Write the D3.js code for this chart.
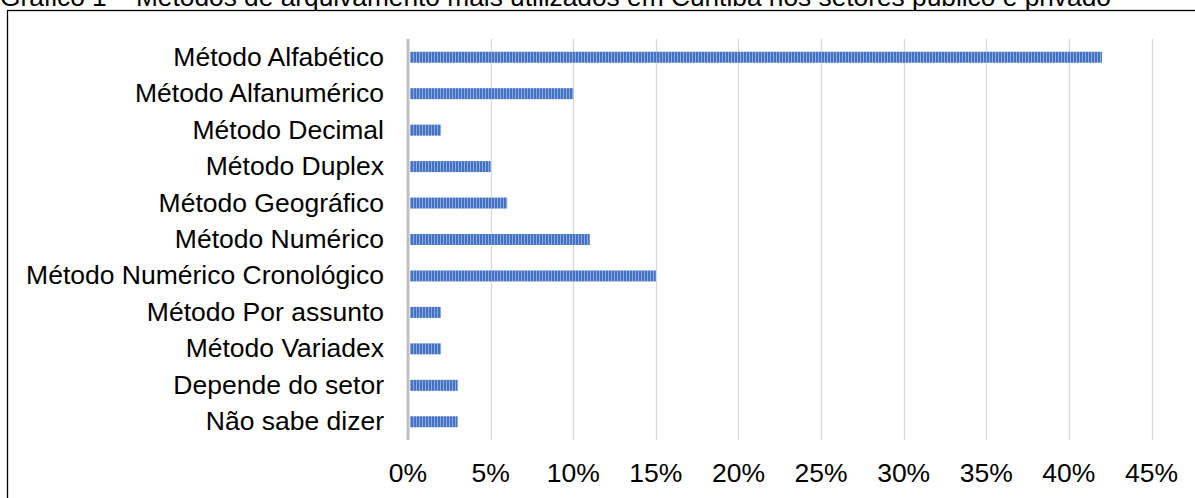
<!DOCTYPE html>
<html><head><meta charset="utf-8">
<script src="https://cdn.jsdelivr.net/npm/d3@7"></script>
<style>body{margin:0;background:#fff;}svg{display:block;}text{font-family:"Liberation Sans",Arial,sans-serif;fill:#000;}</style>
</head><body>
<script>
const categories = ["Método Alfabético","Método Alfanumérico","Método Decimal","Método Duplex","Método Geográfico","Método Numérico","Método Numérico Cronológico","Método Por assunto","Método Variadex","Depende do setor","Não sabe dizer"];
const values = [42,10,2,5,6,11,15,2,2,3,3];
const tickValues = [0,5,10,15,20,25,30,35,40,45];
const title = "Gráfico 1 – Métodos de arquivamento mais utilizados em Curitiba nos setores público e privado";

const W=1195,H=498;
const svg=d3.select("body").append("svg").attr("width",W).attr("height",H);
const defs=svg.append("defs");
const pat=defs.append("pattern").attr("id","stripes").attr("patternUnits","userSpaceOnUse").attr("width",3).attr("height",10);
pat.append("rect").attr("width",3).attr("height",10).attr("fill","#8eaadb");
pat.append("rect").attr("width",2).attr("height",10).attr("fill","#4472c4");

svg.append("text").attr("x",0).attr("y",6).attr("font-size",26.3).text(title);
svg.append("rect").attr("x",7.5).attr("y",10.5).attr("width",1200).attr("height",600).attr("fill","none").attr("stroke","#000").attr("stroke-width",1.3);

const x=d3.scaleLinear().domain([0,45]).range([408,1151.5]);
const y=d3.scaleBand().domain(categories).range([39,440]).paddingInner(0.7).paddingOuter(0.35);

svg.append("g").selectAll("line").data(tickValues.slice(1)).join("line")
 .attr("x1",d=>Math.round(x(d))+0.5).attr("x2",d=>Math.round(x(d))+0.5)
 .attr("y1",39).attr("y2",440).attr("stroke","#d9d9d9").attr("stroke-width",1.3);

svg.append("g").selectAll("rect").data(categories).join("rect")
 .attr("x",x(0)+2).attr("y",d=>y(d)+ (y.bandwidth()-11)/2).attr("height",11)
 .attr("width",(d,i)=>x(values[i])-x(0)-2).attr("fill","url(#stripes)");

svg.append("line").attr("x1",x(0)).attr("x2",x(0)).attr("y1",39).attr("y2",440).attr("stroke","#bfbfbf").attr("stroke-width",3);

svg.append("g").selectAll("text").data(categories).join("text")
 .attr("x",384).attr("y",d=>y(d)+y.bandwidth()/2).attr("dy","0.32em").attr("text-anchor","end").attr("font-size",26.5).text(d=>d);

svg.append("g").selectAll("text").data(tickValues).join("text")
 .attr("x",d=>x(d)).attr("y",481.5).attr("text-anchor","middle").attr("font-size",26.5).text(d=>d+"%");
</script>
</body></html>
